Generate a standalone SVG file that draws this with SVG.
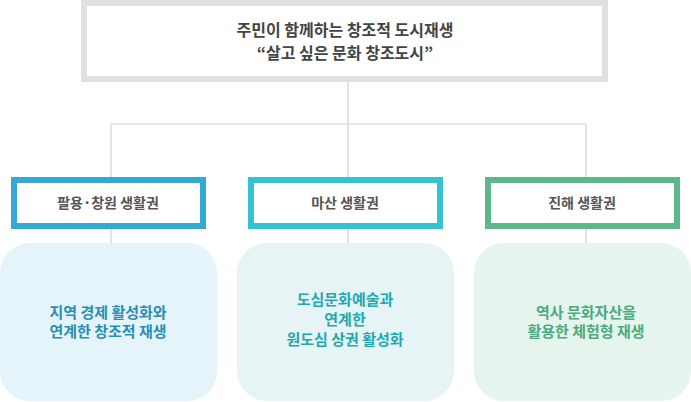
<svg xmlns="http://www.w3.org/2000/svg" width="691" height="402" viewBox="0 0 691 402">
<style>
text{font-family:"Noto Sans CJK KR","Noto Sans",sans-serif;text-anchor:middle;font-weight:700}
.conn line{stroke:#d0d0d0;stroke-width:1.2;fill:none}
.title{fill:#444;font-size:16px}
.lvl{fill:#fff;stroke-width:6}
.lvlt{fill:#555;font-size:14px}
.bt{font-size:15px}
</style>
<rect width="691" height="402" fill="#fff"/>
<g class="conn" id="connectors">
<line x1="348" y1="82" x2="348" y2="177"/>
<line x1="111" y1="124" x2="586" y2="124"/>
<line x1="111" y1="124" x2="111" y2="177"/>
<line x1="586" y1="124" x2="586" y2="177"/>
<line x1="111" y1="229" x2="111" y2="243"/>
<line x1="348" y1="229" x2="348" y2="243"/>
<line x1="586" y1="229" x2="586" y2="243"/>
</g>
<g id="top">
<rect x="84" y="3" width="521" height="76" fill="#fff" stroke="#e0e0e0" stroke-width="6"/>
<text class="title" x="345" y="36">주민이 함께하는 창조적 도시재생</text>
<text class="title" x="345" y="59">“살고 싶은 문화 창조도시”</text>
</g>
<g id="n1">
<rect class="lvl" x="14" y="180" width="189" height="46" stroke="#33a9d4"/>
<text class="lvlt" x="108" y="208">팔용·창원 생활권</text>
</g>
<g id="n2">
<rect class="lvl" x="251" y="180" width="189" height="46" stroke="#33c3d3"/>
<text class="lvlt" x="345" y="208">마산 생활권</text>
</g>
<g id="n3">
<rect class="lvl" x="488" y="180" width="189" height="46" stroke="#5cb88a"/>
<text class="lvlt" x="582" y="208">진해 생활권</text>
</g>
<g id="b1">
<rect x="0" y="243" width="217" height="158" rx="30" fill="#e5f4fa"/>
<text class="bt" x="108" y="318" fill="#2a8eb4">지역 경제 활성화와</text>
<text class="bt" x="108" y="337" fill="#2a8eb4">연계한 창조적 재생</text>
</g>
<g id="b2">
<rect x="237" y="243" width="217" height="158" rx="30" fill="#e6f4f5"/>
<text class="bt" x="345" y="305" fill="#1fa8b1">도심문화예술과</text>
<text class="bt" x="345" y="325" fill="#1fa8b1">연계한</text>
<text class="bt" x="345" y="345" fill="#1fa8b1">원도심 상권 활성화</text>
</g>
<g id="b3">
<rect x="474" y="243" width="217" height="158" rx="30" fill="#e5f4ec"/>
<text class="bt" x="586" y="318" fill="#4daa7c">역사 문화자산을</text>
<text class="bt" x="586" y="337" fill="#4daa7c">활용한 체험형 재생</text>
</g>
</svg>
